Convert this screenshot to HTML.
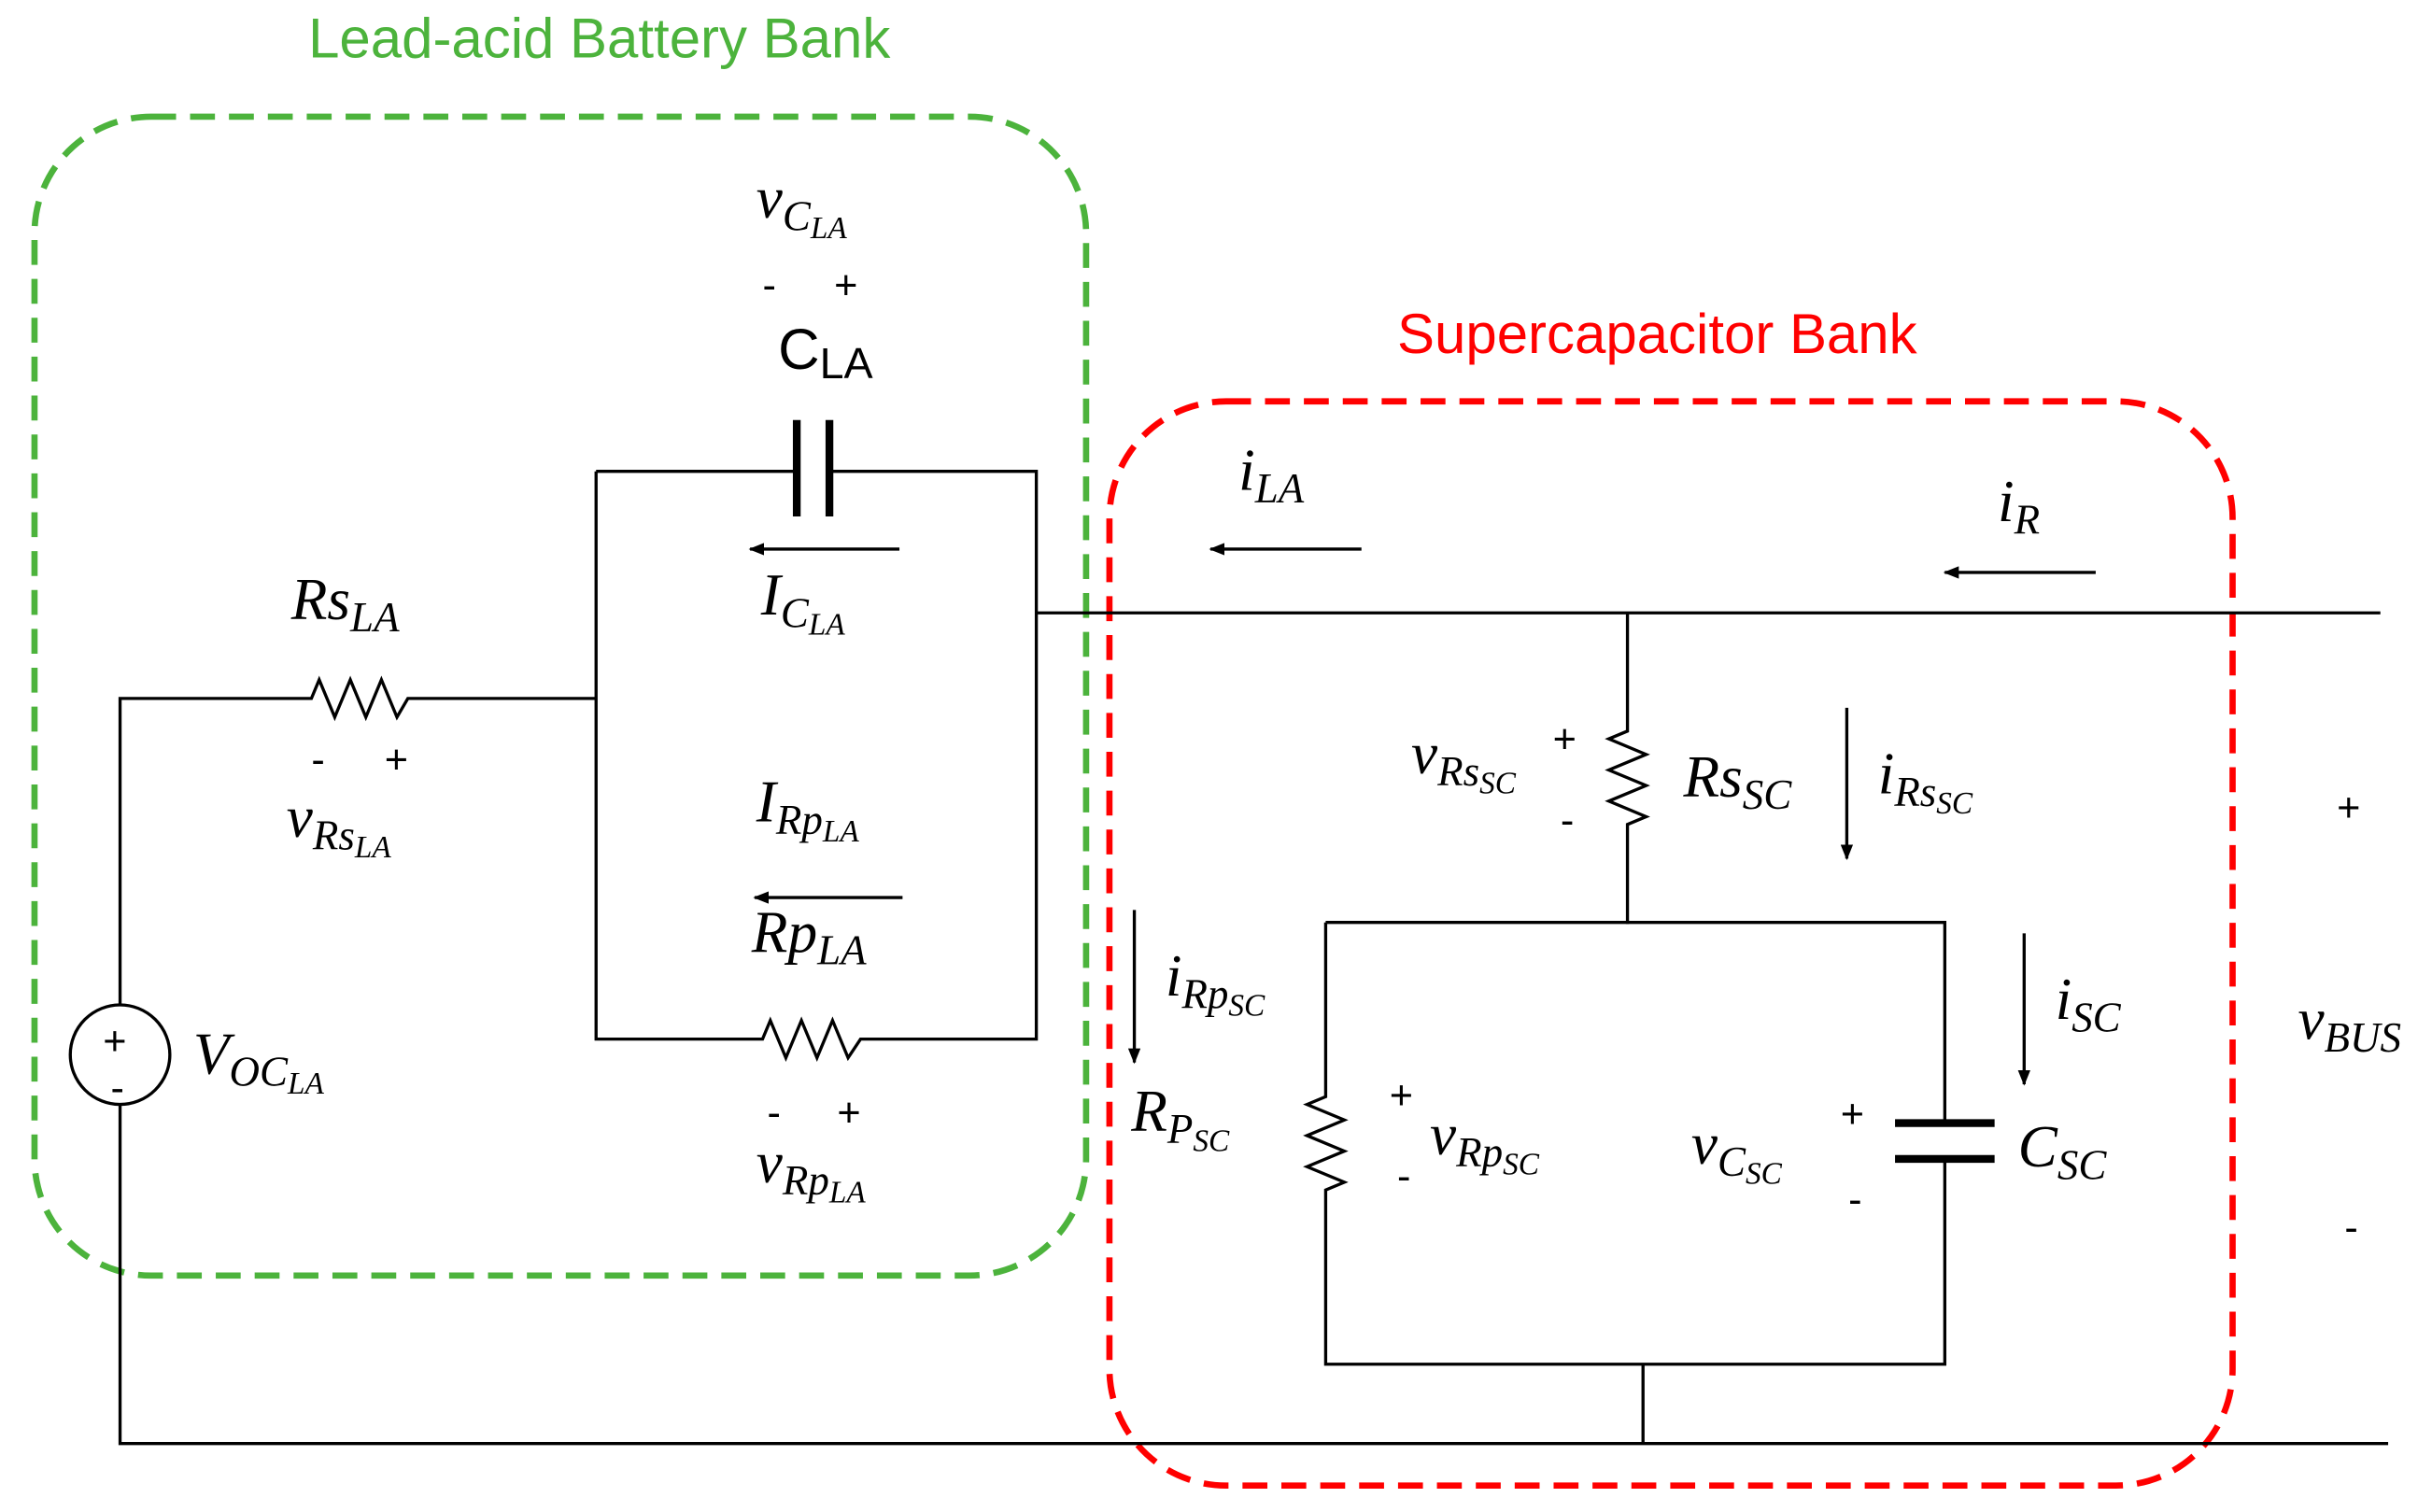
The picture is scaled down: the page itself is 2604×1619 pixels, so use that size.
<!DOCTYPE html>
<html><head><meta charset="utf-8"><style>
html,body{margin:0;padding:0;background:#fff;}
svg{display:block;}
.m{font-family:"Liberation Serif",serif;font-style:italic;font-size:38px;fill:#000;}
.s{font-size:27px;}
.ss{font-size:20px;}
.pm{font-family:"Liberation Sans",sans-serif;font-size:26px;fill:#000;}
</style></head><body>
<svg width="2604" height="1619" viewBox="0 0 1563 972" xmlns="http://www.w3.org/2000/svg">
<defs><marker id="a" markerWidth="10" markerHeight="8" refX="9" refY="4" orient="auto" markerUnits="userSpaceOnUse"><path d="M0,0 L10,4 L0,8 z" fill="#000"/></marker></defs>
<text x="198" y="37" font-family="Liberation Sans,sans-serif" font-size="36" fill="#4cb33c">Lead-acid Battery Bank</text>
<text x="898" y="227" font-family="Liberation Sans,sans-serif" font-size="36" fill="#f00">Supercapacitor Bank</text>
<rect x="22" y="75" width="676" height="745" rx="75" fill="none" stroke="#4cb33c" stroke-width="4" stroke-dasharray="16 9"/>
<rect x="713" y="258" width="722" height="697" rx="75" fill="none" stroke="#f00" stroke-width="4" stroke-dasharray="16 9"/>
<g stroke="#000" stroke-width="2" fill="none">
<path d="M77,646 V449 H200 l5,-12 l10,24 l10,-24 l10,24 l10,-24 l10,24 l7,-12 H383"/>
<path d="M383,303 V668 H490 l5,-12 l10,24 l10,-24 l10,24 l10,-24 l10,24 l8,-12 H666 V303 H533 M512,303 H383"/>
<path d="M666,394 H1530"/>
<path d="M77,710 V928 H1535"/>
<circle cx="77" cy="678" r="32"/>
<path d="M1046,394 V470 l-12,5 l24,10 l-24,10 l24,10 l-24,10 l24,10 l-12,5 V594"/>
<path d="M852,593 H1250 V722 M1250,745 V877 H852 V765 l12,-5 l-24,-10 l24,-10 l-24,-10 l24,-10 l-24,-10 l12,-5 V593"/>
<path d="M1056,877 V928"/>
<g stroke-width="2"><path d="M578,353 H482" marker-end="url(#a)"/><path d="M580,577 H485" marker-end="url(#a)"/><path d="M875,353 H778" marker-end="url(#a)"/><path d="M1347,368 H1250" marker-end="url(#a)"/><path d="M1187,455 V552" marker-end="url(#a)"/><path d="M729,585 V683" marker-end="url(#a)"/><path d="M1301,600 V697" marker-end="url(#a)"/></g>
</g>
<g stroke="#000" stroke-width="5"><path d="M512,270 V332 M533,270 V332 M1218,722 H1282 M1218,745 H1282"/></g>
<text x="66" y="678" class="pm" font-size="30">+</text><text x="71" y="708" class="pm">-</text>
<text x="486" y="140" class="m">v<tspan class="s" dy="8">C</tspan><tspan class="ss" dy="5">LA</tspan></text>
<text x="490" y="192" class="pm">-</text><text x="536" y="192" class="pm">+</text>
<text x="500" y="237" font-family="Liberation Sans,sans-serif" font-size="37">C<tspan font-size="28" dy="6">LA</tspan></text>
<text x="489" y="395" class="m">I<tspan class="s" dy="8">C</tspan><tspan class="ss" dy="5">LA</tspan></text>
<text x="187" y="398" class="m">Rs<tspan class="s" dy="8">LA</tspan></text>
<text x="200" y="497" class="pm">-</text><text x="247" y="497" class="pm">+</text>
<text x="184" y="538" class="m">v<tspan class="s" dy="8">Rs</tspan><tspan class="ss" dy="5">LA</tspan></text>
<text x="486" y="528" class="m">I<tspan class="s" dy="8">Rp</tspan><tspan class="ss" dy="5">LA</tspan></text>
<text x="483" y="612" class="m">Rp<tspan class="s" dy="8">LA</tspan></text>
<text x="493" y="724" class="pm">-</text><text x="538" y="724" class="pm">+</text>
<text x="486" y="760" class="m">v<tspan class="s" dy="8">Rp</tspan><tspan class="ss" dy="5">LA</tspan></text>
<text x="124" y="690" class="m">V<tspan class="s" dy="8">OC</tspan><tspan class="ss" dy="5">LA</tspan></text>
<text x="796" y="315" class="m">i<tspan class="s" dy="8">LA</tspan></text>
<text x="1284" y="335" class="m">i<tspan class="s" dy="8">R</tspan></text>
<text x="907" y="497" class="m">v<tspan class="s" dy="8">Rs</tspan><tspan class="ss" dy="5">SC</tspan></text>
<text x="998" y="484" class="pm">+</text><text x="1003" y="536" class="pm">-</text>
<text x="1082" y="512" class="m">Rs<tspan class="s" dy="8">SC</tspan></text>
<text x="1207" y="510" class="m">i<tspan class="s" dy="8">Rs</tspan><tspan class="ss" dy="5">SC</tspan></text>
<text x="749" y="640" class="m">i<tspan class="s" dy="8">Rp</tspan><tspan class="ss" dy="5">SC</tspan></text>
<text x="727" y="727" class="m">R<tspan class="s" dy="8">P</tspan><tspan class="ss" dy="5">SC</tspan></text>
<text x="893" y="713" class="pm">+</text><text x="898" y="765" class="pm">-</text>
<text x="919" y="742" class="m">v<tspan class="s" dy="8">Rp</tspan><tspan class="ss" dy="5">SC</tspan></text>
<text x="1087" y="748" class="m">v<tspan class="s" dy="8">C</tspan><tspan class="ss" dy="5">SC</tspan></text>
<text x="1183" y="725" class="pm">+</text><text x="1188" y="780" class="pm">-</text>
<text x="1297" y="750" class="m">C<tspan class="s" dy="8">SC</tspan></text>
<text x="1321" y="655" class="m">i<tspan class="s" dy="8">SC</tspan></text>
<text x="1502" y="528" class="pm">+</text>
<text x="1477" y="668" class="m">v<tspan class="s" dy="8">BUS</tspan></text>
<text x="1507" y="798" class="pm">-</text>
</svg>
</body></html>
